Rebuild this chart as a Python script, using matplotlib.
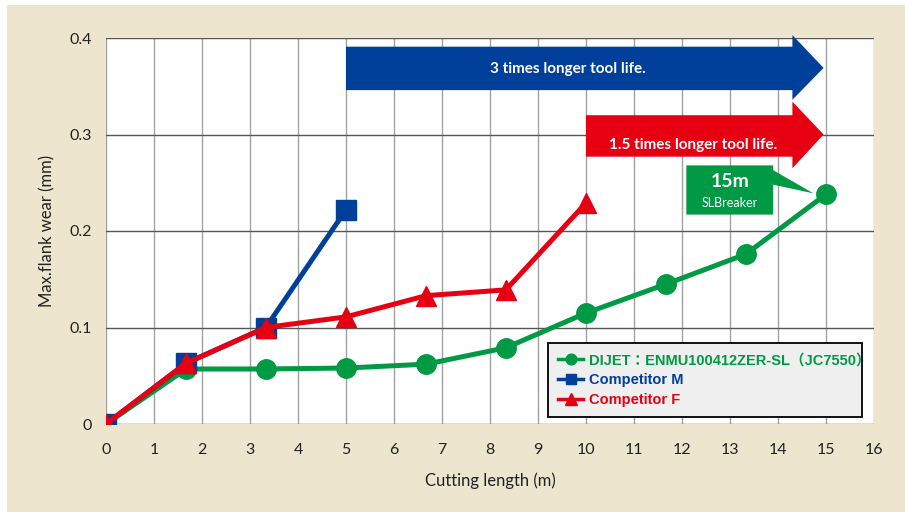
import matplotlib.pyplot as plt
from matplotlib.patches import Polygon, Rectangle

# cutting length (m) and max flank wear (mm)
dijet_x = [0, 1.67, 3.33, 5, 6.67, 8.33, 10, 11.67, 13.33, 15]
dijet_y = [0, 0.057, 0.057, 0.058, 0.062, 0.079, 0.115, 0.145, 0.176, 0.238]
comp_m_x = [0, 1.67, 3.33, 5]
comp_m_y = [0, 0.063, 0.100, 0.222]
comp_f_x = [0, 1.67, 3.33, 5, 6.67, 8.33, 10]
comp_f_y = [0, 0.063, 0.100, 0.111, 0.133, 0.139, 0.229]

labels = ["DIJET：ENMU100412ZER-SL（JC7550）", "Competitor M", "Competitor F"]
green, blue, red = "#009944", "#00409A", "#E60012"

plt.rcParams["font.family"] = ["Lato", "DejaVu Sans"]

fig = plt.figure(figsize=(9.05, 5.12), dpi=100)
fig.patches.append(Rectangle((7 / 905, 0), 1, 1 - 5 / 512, transform=fig.transFigure,
                             facecolor="#EEE5CF", edgecolor="none", zorder=-10))
ax = fig.add_axes([106 / 905, 88 / 512, 768 / 905, 386 / 512])
ax.set_facecolor("white")

ax.set_xlim(0, 16)
ax.set_ylim(0, 0.4)
ax.set_xticks(range(0, 17))
ax.set_yticks([0, 0.1, 0.2, 0.3, 0.4])
ax.set_yticklabels(["0", "0.1", "0.2", "0.3", "0.4"])
ax.tick_params(length=0, labelsize=11.5, colors="#222222")
ax.tick_params(axis="x", pad=14)
ax.tick_params(axis="y", pad=10)
for s in ax.spines.values():
    s.set_visible(False)
ax.xaxis.grid(True, color="#a0a0a0", lw=1.0)
ax.yaxis.grid(True, color="#555555", lw=1.0)
ax.set_axisbelow(True)

ax.set_xlabel("Cutting length (m)", fontsize=12, color="#222222", labelpad=11)
ax.set_ylabel("Max.flank wear (mm)", fontsize=12, color="#222222", labelpad=10)

ax.plot(dijet_x, dijet_y, "-o", color=green, lw=3.6, ms=14, label=labels[0], zorder=3)
ax.plot(comp_m_x, comp_m_y, "-s", color=blue, lw=3.6, ms=14, label=labels[1], zorder=4)
ax.plot(comp_f_x, comp_f_y, "-^", color=red, lw=3.6, ms=15, label=labels[2], zorder=5)

# arrows
blue_arrow = [(5, 0.391), (14.3, 0.391), (14.3, 0.403), (14.95, 0.369),
              (14.3, 0.336), (14.3, 0.346), (5, 0.346)]
red_arrow = [(10, 0.320), (14.3, 0.320), (14.3, 0.334), (14.95, 0.300),
             (14.3, 0.265), (14.3, 0.277), (10, 0.277)]
ax.add_patch(Polygon(blue_arrow, closed=True, facecolor=blue, edgecolor="none",
                     clip_on=False, zorder=6))
ax.add_patch(Polygon(red_arrow, closed=True, facecolor=red, edgecolor="none",
                     clip_on=False, zorder=6))
ax.text(9.63, 0.368, "3 times longer tool life.", color="white", fontsize=11,
        fontweight="bold", ha="center", va="center", zorder=7)
ax.text(12.23, 0.289, "1.5 times longer tool life.", color="white", fontsize=11,
        fontweight="bold", ha="center", va="center", zorder=7)

# callout
callout = [(12.09, 0.268), (13.9, 0.268), (13.9, 0.263), (14.74, 0.239),
           (13.9, 0.248), (13.9, 0.217), (12.09, 0.217)]
ax.add_patch(Polygon(callout, closed=True, facecolor=green, edgecolor="none", zorder=6))
ax.text(13.0, 0.251, "15m", color="white", fontsize=14, fontweight="bold",
        ha="center", va="center", zorder=7)
ax.text(13.0, 0.229, "SLBreaker", color="white", fontsize=9,
        ha="center", va="center", zorder=7)

leg = ax.legend(loc="lower left", bbox_to_anchor=(0.5755, 0.018, 0.409, 0.19),
                mode="expand", borderaxespad=0, fancybox=False, framealpha=1,
                borderpad=0.7, labelspacing=0.4, handlelength=1.7, handletextpad=0.4,
                markerscale=0.55, labelcolor="linecolor",
                prop={"family": ["Liberation Sans", "Noto Sans CJK JP"],
                      "weight": "bold", "size": 10.5})
leg.get_frame().set_facecolor("#EFEFEF")
leg.get_frame().set_edgecolor("#111111")
leg.get_frame().set_linewidth(1.4)
leg.set_zorder(8)
for line in leg.get_lines():
    line.set_linewidth(2.5)

fig.savefig("out.png", dpi=100)
